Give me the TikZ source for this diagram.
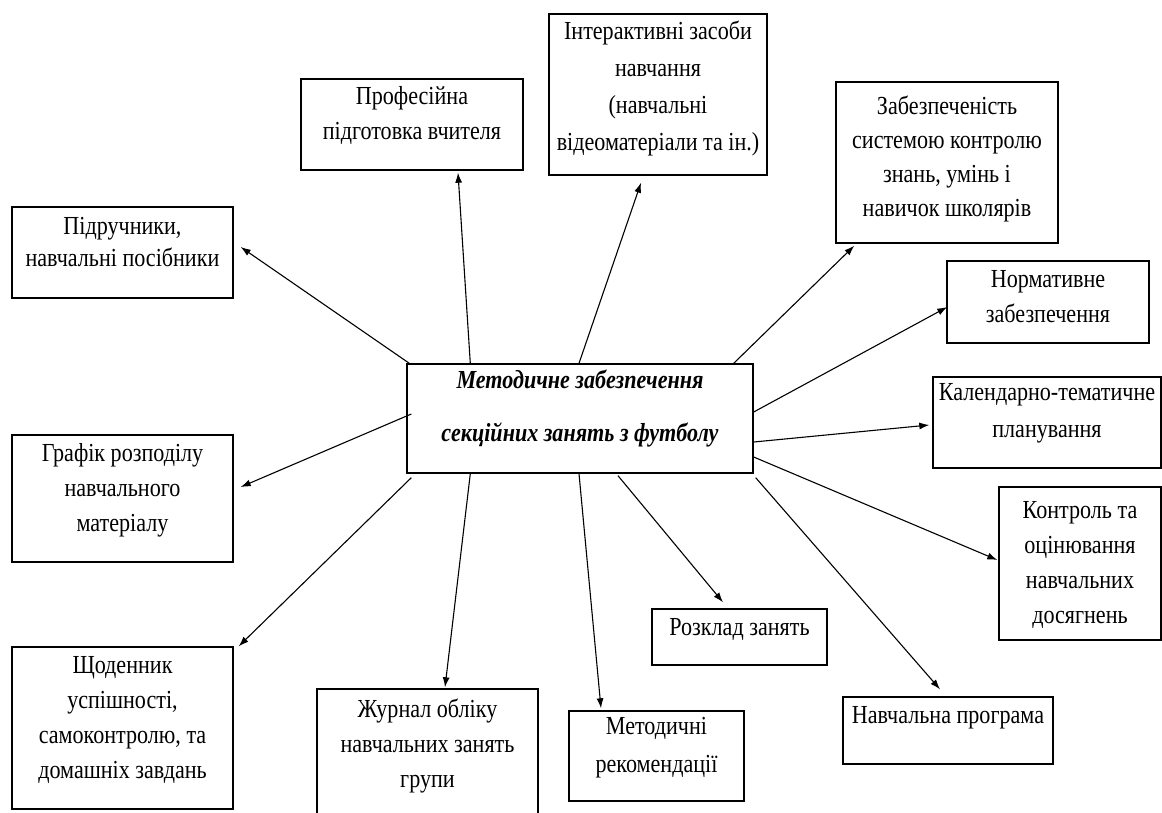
\documentclass[tikz,border=0pt]{standalone}
\usepackage{fontspec}
\setmainfont{Liberation Serif}[FakeStretch=0.85]
\usetikzlibrary{arrows.meta,calc}
\begin{document}
\begin{tikzpicture}[x=1pt,y=-1pt,
  box/.style={draw, line width=1.4pt, inner sep=0pt, rectangle},
  txt/.style={align=center, font=\fontsize{26}{35}\selectfont, inner sep=0pt, anchor=north, execute at begin node={\rule{0pt}{20pt}}},
  ctxt/.style={align=center, font=\fontsize{26}{53}\selectfont\bfseries\itshape, inner sep=0pt, anchor=north, execute at begin node={\rule{0pt}{20pt}}},
  arr/.style={-{Latex[length=10pt,width=7pt]}, line width=1.1pt}]
\useasboundingbox (0,0) rectangle (1162,812);
\fill[white] (0,0) rectangle (1162,812);
% boxes
\node[box, minimum width=221pt, minimum height=91pt]  (P)  at (122.5,252.5) {};
\node[box, minimum width=222pt, minimum height=91pt]  (Pr) at (412,124.5) {};
\node[box, minimum width=218pt, minimum height=161pt] (I)  at (658,94.5) {};
\node[box, minimum width=222pt, minimum height=161pt] (Z)  at (947,162.5) {};
\node[box, minimum width=202pt, minimum height=82pt]  (N)  at (1048,302) {};
\node[box, minimum width=346pt, minimum height=109pt] (C)  at (580,418.5) {};
\node[box, minimum width=228pt, minimum height=91pt]  (K)  at (1047,422.5) {};
\node[box, minimum width=221pt, minimum height=127pt] (G)  at (122.5,498.5) {};
\node[box, minimum width=162pt, minimum height=153pt] (Ko) at (1080,563.5) {};
\node[box, minimum width=175pt, minimum height=56pt]  (R)  at (739.5,637) {};
\node[box, minimum width=210pt, minimum height=67pt]  (NP) at (948,730.5) {};
\node[box, minimum width=221pt, minimum height=162pt] (S)  at (122.5,728) {};
\node[box, minimum width=221pt, minimum height=126pt] (Zh) at (427.5,752) {};
\node[box, minimum width=175pt, minimum height=90pt]  (M)  at (656.5,756) {};
% texts
\node[txt, font=\fontsize{26}{32}\selectfont] (Pt) at ($(P.north)+(0,11)$) {Підручники,\\навчальні посібники};
\node[txt] (Prt) at ($(Pr.north)+(0,8)$)  {Професійна\\підготовка вчителя};
\node[txt, font=\fontsize{26}{37}\selectfont] (It) at ($(I.north)+(0,7)$) {Інтерактивні засоби\\навчання\\(навчальні\\відеоматеріали та ін.)};
\node[txt, font=\fontsize{26}{34}\selectfont] (Zt) at ($(Z.north)+(0,14)$) {Забезпеченість\\системою контролю\\знань, умінь і\\навичок школярів};
\node[txt] (Nt)  at ($(N.north)+(0,10)$)  {Нормативне\\забезпечення};
\node[ctxt] (Ct) at ($(C.north)+(0,6)$)   {Методичне забезпечення\\секційних занять з футболу};
\node[txt, font=\fontsize{26}{37}\selectfont] (Kt) at ($(K.north)+(0,7)$) {Календарно-тематичне\\планування};
\node[txt] (Gt)  at ($(G.north)+(0,9)$)   {Графік розподілу\\навчального\\матеріалу};
\node[txt] (Kot) at ($(Ko.north)+(0,15)$) {Контроль та\\оцінювання\\навчальних\\досягнень};
\node[txt] (Rt)  at ($(R.north)+(0,7)$)   {Розклад занять};
\node[txt] (NPt) at ($(NP.north)+(0,7)$)  {Навчальна програма};
\node[txt] (St)  at ($(S.north)+(0,10)$)  {Щоденник\\успішності,\\самоконтролю, та\\домашніх завдань};
\node[txt] (Zht) at ($(Zh.north)+(0,10)$) {Журнал обліку\\навчальних занять\\групи};
\node[txt, font=\fontsize{26}{38}\selectfont] (Mt) at ($(M.north)+(0,7)$) {Методичні\\рекомендації};
% connectors
\draw[arr] ($(C.north west)+(3,0)$)  -- ($(P.east)+(7,-5.5)$);
\draw[arr] ($(C.north west)+(64,0)$) -- ($(Pr.south)+(46,2)$);
\draw[arr] ($(C.north)+(-1,0)$)      -- ($(I.south)+(-17,7)$);
\draw[arr] ($(C.north east)+(-20,0)$) -- ($(Z.south west)+(19,2)$);
\draw[arr] ($(C.east)+(0,-6.5)$)     -- ($(N.west)+(1,5)$);
\draw[arr] ($(C.east)+(0,23.5)$)     -- ($(K.west)+(-3,2.5)$);
\draw[arr] ($(C.east)+(0,38.5)$)     -- ($(Ko.west)+(-1,-3.5)$);
\draw[arr] ($(C.south east)+(2,4)$)  -- ($(NP.north)+(-8,-7)$);
\draw[arr] ($(C.south)+(38,2)$)      -- ($(R.north)+(-16.5,-6)$);
\draw[arr] ($(C.south)+(-1,0)$)      -- ($(M.north)+(-55.5,-2)$);
\draw[arr] ($(C.south west)+(64,0)$) -- ($(Zh.north)+(17.5,-1)$);
\draw[arr] ($(C.south west)+(5,4)$)  -- ($(S.north east)+(5,0)$);
\draw[arr] ($(C.west)+(5,-4.5)$)     -- ($(G.east)+(7,-11.5)$);
\end{tikzpicture}
\end{document}
